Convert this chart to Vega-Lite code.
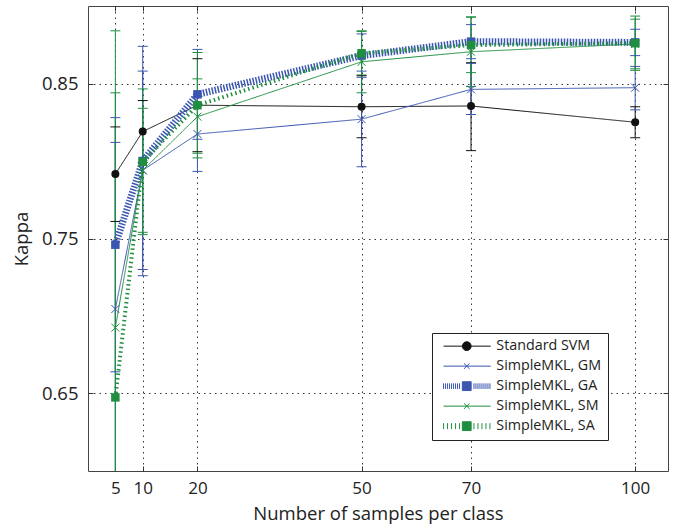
{
  "$schema": "https://vega.github.io/schema/vega-lite/v6.json",
  "width": 580,
  "height": 465,
  "autosize": {"type": "none"},
  "padding": {"left": 88, "top": 6, "right": 8, "bottom": 56},
  "background": "white",
  "config": {
    "view": {"stroke": "#444", "strokeWidth": 1},
    "font": "Open Sans",
    "axis": {
      "labelFont": "Open Sans", "titleFont": "Open Sans",
      "labelFontSize": 17, "titleFontSize": 18.5, "titleFontWeight": "normal",
      "labelColor": "#222", "titleColor": "#222",
      "domain": false,
      "gridDash": [1.5, 4], "gridColor": "#222", "gridOpacity": 0.9, "gridWidth": 1,
      "tickColor": "#333", "tickSize": -5
    }
  },
  "data": {"values": [
    {"s": "Standard SVM", "n": 5, "k": 0.7916, "lo": 0.761, "hi": 0.822},
    {"s": "Standard SVM", "n": 10, "k": 0.819, "lo": 0.799, "hi": 0.839},
    {"s": "Standard SVM", "n": 20, "k": 0.836, "lo": 0.806, "hi": 0.866},
    {"s": "Standard SVM", "n": 50, "k": 0.835, "lo": 0.815, "hi": 0.855},
    {"s": "Standard SVM", "n": 70, "k": 0.8355, "lo": 0.8067, "hi": 0.8634},
    {"s": "Standard SVM", "n": 100, "k": 0.825, "lo": 0.815, "hi": 0.835},
    {"s": "SimpleMKL, GM", "n": 5, "k": 0.7045, "lo": 0.597, "hi": 0.812},
    {"s": "SimpleMKL, GM", "n": 10, "k": 0.794, "lo": 0.73, "hi": 0.858},
    {"s": "SimpleMKL, GM", "n": 20, "k": 0.8174, "lo": 0.7933, "hi": 0.8415},
    {"s": "SimpleMKL, GM", "n": 50, "k": 0.827, "lo": 0.7963, "hi": 0.858},
    {"s": "SimpleMKL, GM", "n": 70, "k": 0.8462, "lo": 0.83, "hi": 0.863},
    {"s": "SimpleMKL, GM", "n": 100, "k": 0.8473, "lo": 0.833, "hi": 0.861},
    {"s": "SimpleMKL, GA", "n": 5, "k": 0.746, "lo": 0.664, "hi": 0.828},
    {"s": "SimpleMKL, GA", "n": 10, "k": 0.8, "lo": 0.726, "hi": 0.874},
    {"s": "SimpleMKL, GA", "n": 20, "k": 0.843, "lo": 0.814, "hi": 0.872},
    {"s": "SimpleMKL, GA", "n": 50, "k": 0.868, "lo": 0.854, "hi": 0.882},
    {"s": "SimpleMKL, GA", "n": 70, "k": 0.877, "lo": 0.866, "hi": 0.888},
    {"s": "SimpleMKL, GA", "n": 100, "k": 0.8765, "lo": 0.868, "hi": 0.885},
    {"s": "SimpleMKL, SM", "n": 5, "k": 0.6925, "lo": 0.541, "hi": 0.844},
    {"s": "SimpleMKL, SM", "n": 10, "k": 0.794, "lo": 0.754, "hi": 0.834},
    {"s": "SimpleMKL, SM", "n": 20, "k": 0.8286, "lo": 0.805, "hi": 0.853},
    {"s": "SimpleMKL, SM", "n": 50, "k": 0.864, "lo": 0.844, "hi": 0.884},
    {"s": "SimpleMKL, SM", "n": 70, "k": 0.8705, "lo": 0.848, "hi": 0.893},
    {"s": "SimpleMKL, SM", "n": 100, "k": 0.8755, "lo": 0.8595, "hi": 0.8915},
    {"s": "SimpleMKL, SA", "n": 5, "k": 0.6475, "lo": 0.411, "hi": 0.884},
    {"s": "SimpleMKL, SA", "n": 10, "k": 0.7995, "lo": 0.7525, "hi": 0.8465},
    {"s": "SimpleMKL, SA", "n": 20, "k": 0.836, "lo": 0.802, "hi": 0.87},
    {"s": "SimpleMKL, SA", "n": 50, "k": 0.8695, "lo": 0.8555, "hi": 0.8835},
    {"s": "SimpleMKL, SA", "n": 70, "k": 0.8748, "lo": 0.857, "hi": 0.8928},
    {"s": "SimpleMKL, SA", "n": 100, "k": 0.876, "lo": 0.8585, "hi": 0.8935}
  ]},
  "resolve": {"axis": {"x": "independent", "y": "independent"}},
  "layer": [
    {
      "layer": [
        {
          "mark": {"type": "rule", "clip": true, "strokeWidth": 1},
          "encoding": {
            "x": {"field": "n", "type": "quantitative"},
            "y": {"field": "lo", "type": "quantitative"},
            "y2": {"field": "hi"},
            "color": {"field": "s", "type": "nominal", "legend": null}
          }
        },
        {
          "mark": {"type": "tick", "orient": "horizontal", "size": 10, "thickness": 1, "opacity": 1, "clip": true},
          "encoding": {
            "x": {"field": "n", "type": "quantitative"},
            "y": {"field": "lo", "type": "quantitative"},
            "color": {"field": "s", "type": "nominal", "legend": null}
          }
        },
        {
          "mark": {"type": "tick", "orient": "horizontal", "size": 10, "thickness": 1, "opacity": 1, "clip": true},
          "encoding": {
            "x": {"field": "n", "type": "quantitative"},
            "y": {"field": "hi", "type": "quantitative"},
            "color": {"field": "s", "type": "nominal", "legend": null}
          }
        },
        {
          "mark": {"type": "line", "clip": true},
          "encoding": {
            "x": {"field": "n", "type": "quantitative"},
            "y": {"field": "k", "type": "quantitative"},
            "color": {"field": "s", "type": "nominal", "legend": null},
            "strokeDash": {"field": "s", "type": "nominal", "legend": null,
              "scale": {"range": [[1.5, 1.5], [1, 0], [1.5, 3], [1, 0], [1, 0]]}},
            "strokeWidth": {"field": "s", "type": "ordinal", "legend": null,
              "scale": {"type": "ordinal", "range": [7, 1, 4, 1, 1]}}
          }
        },
        {
          "transform": [{"filter": "datum.s == 'Standard SVM'"}],
          "mark": {"type": "point", "shape": "circle", "filled": true, "size": 64, "opacity": 1},
          "encoding": {
            "x": {"field": "n", "type": "quantitative"},
            "y": {"field": "k", "type": "quantitative"},
            "color": {"field": "s", "type": "nominal", "legend": null}
          }
        },
        {
          "transform": [{"filter": "datum.s == 'SimpleMKL, GA' || datum.s == 'SimpleMKL, SA'"}],
          "mark": {"type": "point", "shape": "square", "filled": true, "size": 72, "opacity": 1, "clip": true},
          "encoding": {
            "x": {"field": "n", "type": "quantitative"},
            "y": {"field": "k", "type": "quantitative"},
            "color": {"field": "s", "type": "nominal", "legend": null}
          }
        },
        {
          "transform": [{"filter": "datum.s == 'SimpleMKL, GM' || datum.s == 'SimpleMKL, SM'"}],
          "mark": {"type": "point", "shape": "M-1,-1L1,1M-1,1L1,-1", "filled": false, "size": 64, "strokeWidth": 1, "opacity": 1},
          "encoding": {
            "x": {"field": "n", "type": "quantitative",
              "scale": {"domain": [0, 106], "nice": false, "zero": false},
              "axis": {"values": [5, 10, 20, 50, 70, 100], "grid": true, "title": "Number of samples per class", "labelPadding": 14, "titlePadding": 8}},
            "y": {"field": "k", "type": "quantitative",
              "scale": {"domain": [0.6, 0.9], "nice": false, "zero": false},
              "axis": {"values": [0.65, 0.75, 0.85], "format": ".2f", "grid": true, "title": "Kappa", "labelFontSize": 18.5, "labelPadding": 15, "titlePadding": 10}},
            "color": {"field": "s", "type": "nominal", "legend": null,
              "scale": {"range": ["#3a56b0", "#3a56b0", "#1f8f3f", "#1f8f3f", "#111111"]}}
          }
        }
      ]
    },
    {
      "mark": {"type": "point", "opacity": 0, "strokeWidth": 1},
      "encoding": {
        "x": {"field": "n", "type": "quantitative", "axis": {"orient": "top", "labels": false, "grid": false, "title": null, "values": [5, 10, 20, 50, 70, 100]}},
        "y": {"field": "k", "type": "quantitative", "axis": {"orient": "right", "labels": false, "grid": false, "title": null, "values": [0.65, 0.75, 0.85]}},
        "shape": {"field": "s", "type": "nominal",
          "scale": {"domain": ["Standard SVM", "SimpleMKL, GM", "SimpleMKL, GA", "SimpleMKL, SM", "SimpleMKL, SA"],
            "range": [
              "M-0.4,0L4.3,0M6.5,0L11.4,0M4.3,0A1.1,1.1 0 1,1 6.5,0A1.1,1.1 0 1,1 4.3,0Z",
              "M-0.4,0L11.4,0M4.7,-0.7L6.1,0.7M4.7,0.7L6.1,-0.7",
              "M4.3,-1.1L6.5,-1.1L6.5,1.1L4.3,1.1ZM-0.4,-0.7L-0.4,0.7M0.1,-0.7L0.1,0.7M0.6,-0.7L0.6,0.7M1.1,-0.7L1.1,0.7M1.6,-0.7L1.6,0.7M2.1,-0.7L2.1,0.7M2.6,-0.7L2.6,0.7M3.1,-0.7L3.1,0.7M3.6,-0.7L3.6,0.7M7.2,-0.7L7.2,0.7M7.7,-0.7L7.7,0.7M8.2,-0.7L8.2,0.7M8.7,-0.7L8.7,0.7M9.2,-0.7L9.2,0.7M9.7,-0.7L9.7,0.7M10.2,-0.7L10.2,0.7M10.7,-0.7L10.7,0.7M11.2,-0.7L11.2,0.7",
              "M-0.4,0L11.4,0M4.7,-0.7L6.1,0.7M4.7,0.7L6.1,-0.7",
              "M4.3,-1.1L6.5,-1.1L6.5,1.1L4.3,1.1ZM-0.4,-0.75L-0.4,0.75M0.6,-0.75L0.6,0.75M1.6,-0.75L1.6,0.75M2.6,-0.75L2.6,0.75M3.6,-0.75L3.6,0.75M7.2,-0.75L7.2,0.75M8.2,-0.75L8.2,0.75M9.2,-0.75L9.2,0.75M10.2,-0.75L10.2,0.75M11.2,-0.75L11.2,0.75"
            ]},
          "legend": {"title": null, "orient": "none", "legendX": 344, "legendY": 327,
            "strokeColor": "#222", "fillColor": "white", "padding": 6, "cornerRadius": 0,
            "symbolSize": 64, "symbolStrokeWidth": 1, "symbolOpacity": 1, "symbolOffset": 0, "labelOffset": 44,
            "labelFont": "Open Sans", "labelFontSize": 14.3, "labelColor": "#222", "rowPadding": 5, "labelLimit": 300}},
        "fill": {"field": "s", "type": "nominal",
          "scale": {"domain": ["Standard SVM", "SimpleMKL, GM", "SimpleMKL, GA", "SimpleMKL, SM", "SimpleMKL, SA"],
                    "range": ["#111111", "#3a56b0", "#3a56b0", "#1f8f3f", "#1f8f3f"]}},
        "stroke": {"field": "s", "type": "nominal",
          "scale": {"domain": ["Standard SVM", "SimpleMKL, GM", "SimpleMKL, GA", "SimpleMKL, SM", "SimpleMKL, SA"],
                    "range": ["#111111", "#3a56b0", "#3a56b0", "#1f8f3f", "#1f8f3f"]}}
      }
    }
  ]
}
